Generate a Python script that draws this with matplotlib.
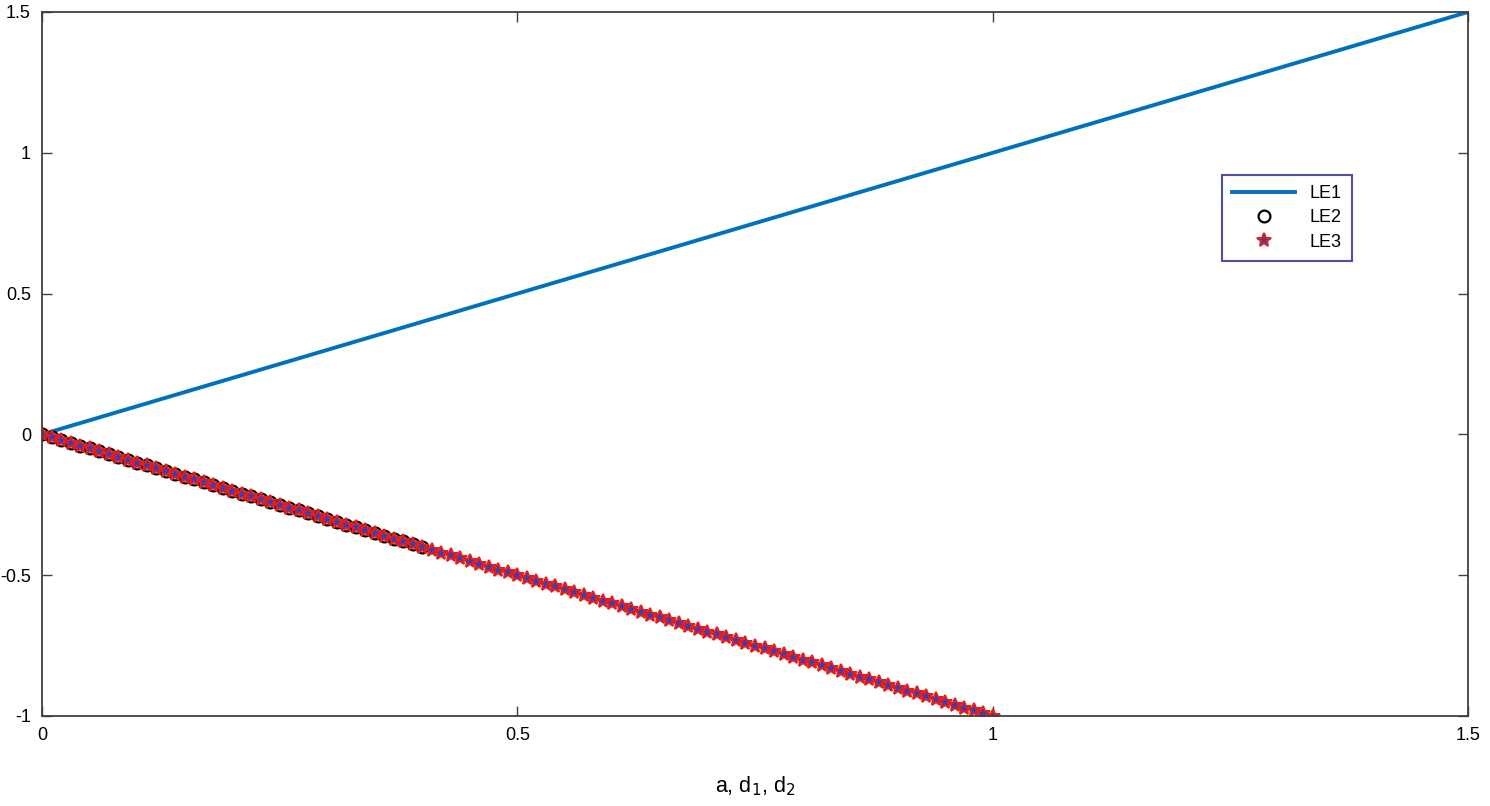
import numpy as np
import matplotlib
matplotlib.use('Agg')
import matplotlib.pyplot as plt

matplotlib.rcParams.update({'font.size': 13, 'font.family': 'Liberation Sans'})

# LE1: straight line y = x
le1_x = [0.0, 1.5]
le1_y = [0.0, 1.5]

# LE3: stars every 0.01 from 0 to 1
le3_x = [0.00, 0.01, 0.02, 0.03, 0.04, 0.05, 0.06, 0.07, 0.08, 0.09,
         0.10, 0.11, 0.12, 0.13, 0.14, 0.15, 0.16, 0.17, 0.18, 0.19,
         0.20, 0.21, 0.22, 0.23, 0.24, 0.25, 0.26, 0.27, 0.28, 0.29,
         0.30, 0.31, 0.32, 0.33, 0.34, 0.35, 0.36, 0.37, 0.38, 0.39,
         0.40, 0.41, 0.42, 0.43, 0.44, 0.45, 0.46, 0.47, 0.48, 0.49,
         0.50, 0.51, 0.52, 0.53, 0.54, 0.55, 0.56, 0.57, 0.58, 0.59,
         0.60, 0.61, 0.62, 0.63, 0.64, 0.65, 0.66, 0.67, 0.68, 0.69,
         0.70, 0.71, 0.72, 0.73, 0.74, 0.75, 0.76, 0.77, 0.78, 0.79,
         0.80, 0.81, 0.82, 0.83, 0.84, 0.85, 0.86, 0.87, 0.88, 0.89,
         0.90, 0.91, 0.92, 0.93, 0.94, 0.95, 0.96, 0.97, 0.98, 0.99,
         1.00]
le3_y = [-0.00, -0.01, -0.02, -0.03, -0.04, -0.05, -0.06, -0.07, -0.08, -0.09,
         -0.10, -0.11, -0.12, -0.13, -0.14, -0.15, -0.16, -0.17, -0.18, -0.19,
         -0.20, -0.21, -0.22, -0.23, -0.24, -0.25, -0.26, -0.27, -0.28, -0.29,
         -0.30, -0.31, -0.32, -0.33, -0.34, -0.35, -0.36, -0.37, -0.38, -0.39,
         -0.40, -0.41, -0.42, -0.43, -0.44, -0.45, -0.46, -0.47, -0.48, -0.49,
         -0.50, -0.51, -0.52, -0.53, -0.54, -0.55, -0.56, -0.57, -0.58, -0.59,
         -0.60, -0.61, -0.62, -0.63, -0.64, -0.65, -0.66, -0.67, -0.68, -0.69,
         -0.70, -0.71, -0.72, -0.73, -0.74, -0.75, -0.76, -0.77, -0.78, -0.79,
         -0.80, -0.81, -0.82, -0.83, -0.84, -0.85, -0.86, -0.87, -0.88, -0.89,
         -0.90, -0.91, -0.92, -0.93, -0.94, -0.95, -0.96, -0.97, -0.98, -0.99,
         -1.00]

# LE2: circles on the same grid, only up to 0.4
le2_x = le3_x[:41]
le2_y = le3_y[:41]

xticks = [0, 0.5, 1, 1.5]
xticklabels = ['0', '0.5', '1', '1.5']
yticks = [-1, -0.5, 0, 0.5, 1, 1.5]
yticklabels = ['-1', '-0.5', '0', '0.5', '1', '1.5']

fig = plt.figure(figsize=(14.9, 8.06), dpi=100)
ax = fig.add_axes([42 / 1490, 90 / 806, 1426 / 1490, 704 / 806])

ax.plot(le1_x, le1_y, color='#0072BD', lw=2.8, label='LE1')
ax.plot(le2_x, le2_y, ls='none', marker='o', ms=8.5, mfc='none', mec='black',
        mew=1.6, label='LE2')
ax.plot(le3_x, le3_y, ls='none', marker='*', ms=10.5, mfc='#3040c0', mec='#e02020',
        mew=1.5, label='LE3')

ax.set_xlim(0, 1.5)
ax.set_ylim(-1, 1.5)
ax.set_xticks(xticks)
ax.set_xticklabels(xticklabels)
ax.set_yticks(yticks)
ax.set_yticklabels(yticklabels)
ax.tick_params(direction='in', top=True, right=True, length=7, width=1,
               color='#404040', pad=8)
for s in ax.spines.values():
    s.set_color('#404040')
    s.set_linewidth(1.3)

ax.set_xlabel('a, d$_1$, d$_2$', fontsize=15.5, labelpad=22)

leg = ax.legend(loc='upper left', bbox_to_anchor=(0.8275, 0.768), fontsize=13,
                fancybox=False, framealpha=1, handlelength=3.5,
                borderpad=0.55, labelspacing=0.4, borderaxespad=0)
leg.get_frame().set_edgecolor('#5050a0')
leg.get_frame().set_linewidth(1.5)

fig.savefig('out.png', dpi=100)
